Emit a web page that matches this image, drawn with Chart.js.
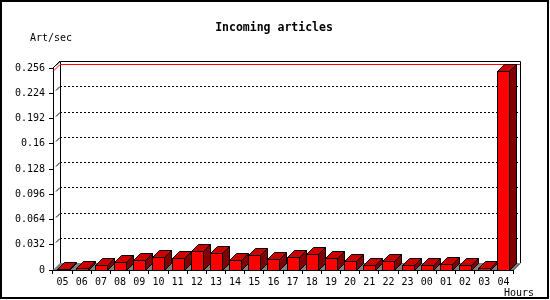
<!DOCTYPE html>
<html>
<head>
<meta charset="utf-8">
<script src="https://cdn.jsdelivr.net/npm/chart.js@4/dist/chart.umd.min.js"></script>
<style>
  body { margin: 0; background: #fff; }
  canvas { display: block; }
</style>
</head>
<body>
<canvas id="myChart" width="550" height="300"></canvas>
<script>
// hourly data
const hours = ['05', '06', '07', '08', '09', '10', '11', '12', '13', '14', '15', '16',
               '17', '18', '19', '20', '21', '22', '23', '00', '01', '02', '03', '04'];
const artPerSec = [0.001, 0.002, 0.006, 0.010, 0.0125, 0.0165, 0.015, 0.024, 0.0215, 0.0125, 0.0185, 0.0145,
                   0.0165, 0.020, 0.015, 0.0115, 0.006, 0.0115, 0.006, 0.006, 0.0075, 0.006, 0.0025, 0.252];
const yTicks = [0, 0.032, 0.064, 0.096, 0.128, 0.16, 0.192, 0.224, 0.256];

const D = 7; // 3d depth in px
const mono = '"DejaVu Sans Mono", monospace';

const fake3d = {
    id: 'fake3d',
    beforeDatasetsDraw(chart) {
        const c = chart.ctx, a = chart.chartArea, y = chart.scales.y;
        c.save();
        // floor
        c.fillStyle = '#808080';
        c.beginPath();
        c.moveTo(a.left, a.bottom);
        c.lineTo(a.right, a.bottom);
        c.lineTo(a.right + D, a.bottom - D);
        c.lineTo(a.left + D, a.bottom - D);
        c.closePath();
        c.fill();
        c.strokeStyle = '#000';
        c.lineWidth = 1;
        c.beginPath();
        c.moveTo(a.right, a.bottom + 0.5);
        c.lineTo(a.right + D, a.bottom - D + 0.5);
        c.stroke();

        // back wall grid
        c.setLineDash([2, 2]);
        yTicks.forEach(v => {
            if (v === 0 || v === yTicks[yTicks.length - 1]) return;
            const py = Math.round(y.getPixelForValue(v)) - D + 0.5;
            c.beginPath();
            c.moveTo(a.left + D, py);
            c.lineTo(a.right + D, py);
            c.stroke();
        });
        c.setLineDash([]);
        // little stubs on side wall
        yTicks.forEach(v => {
            if (v === 0) return;
            const py = Math.round(y.getPixelForValue(v)) + 0.5;
            c.beginPath();
            c.moveTo(a.left + 3, py - 3);
            c.lineTo(a.left + D, py - D);
            c.stroke();
        });

        // back wall frame
        const top = Math.round(a.top) - D + 0.5;
        c.beginPath();
        c.moveTo(a.left + D + 0.5, a.bottom - D);
        c.lineTo(a.left + D + 0.5, top);
        c.lineTo(a.right + D + 0.5, top);
        c.lineTo(a.right + D + 0.5, a.bottom - D);
        c.stroke();
        c.beginPath();
        c.moveTo(a.left, a.top);
        c.lineTo(a.left + D, a.top - D);
        c.stroke();

        // max line
        const mx = Math.max(...artPerSec);
        const my = Math.round(y.getPixelForValue(mx)) + 0.5;
        c.strokeStyle = '#ff0000';
        c.beginPath();
        c.moveTo(a.left, my);
        c.lineTo(a.left + D, my - D);
        c.lineTo(a.right + D, my - D);
        c.stroke();
        c.restore();
    },
    afterDatasetsDraw(chart) {
        const c = chart.ctx;
        c.save();
        c.strokeStyle = '#000';
        c.lineWidth = 1;
        chart.getDatasetMeta(0).data.forEach(bar => {
            const x0 = Math.round(bar.x - bar.width / 2) + 0.5;
            const x1 = Math.round(bar.x + bar.width / 2) + 0.5;
            const yt = Math.round(bar.y) + 0.5;
            const yb = Math.round(bar.base) + 0.5;
            // top
            c.fillStyle = '#cc0000';
            c.beginPath();
            c.moveTo(x0, yt);
            c.lineTo(x1, yt);
            c.lineTo(x1 + D, yt - D);
            c.lineTo(x0 + D, yt - D);
            c.closePath();
            c.fill();
            c.stroke();
            // side
            c.fillStyle = '#800000';
            c.beginPath();
            c.moveTo(x1, yt);
            c.lineTo(x1 + D, yt - D);
            c.lineTo(x1 + D, yb - D);
            c.lineTo(x1, yb);
            c.closePath();
            c.fill();
            c.stroke();
            // front
            c.fillStyle = '#ff0000';
            c.fillRect(x0, yt, x1 - x0, yb - yt);
            c.strokeRect(x0, yt, x1 - x0, yb - yt);
        });
        c.restore();
    },
    afterDraw(chart) {
        const c = chart.ctx;
        c.save();
        c.fillStyle = '#000';
        c.textBaseline = 'alphabetic';
        c.font = 'bold 11.5px ' + mono;
        c.textAlign = 'center';
        c.fillText('Incoming articles', 274, 31);
        c.font = '10px ' + mono;
        c.textAlign = 'left';
        c.fillText('Art/sec', 30, 41);
        c.fillText('Hours', 504, 296);
        c.strokeStyle = '#000';
        c.lineWidth = 2;
        c.strokeRect(1, 1, 547, 297);
        c.restore();
    }
};

const ctx = document.getElementById('myChart').getContext('2d');
const myChart = new Chart(ctx, {
    type: 'bar',
    data: {
        labels: hours,
        datasets: [{
            data: artPerSec,
            backgroundColor: 'rgba(0,0,0,0)',
            borderWidth: 0,
            categoryPercentage: 1,
            barPercentage: 0.63
        }]
    },
    options: {
        responsive: false,
        animation: false,
        layout: { padding: { top: 68, right: 37, bottom: 0, left: 0 } },
        plugins: { legend: { display: false }, tooltip: { enabled: false } },
        scales: {
            x: {
                afterFit: s => { s.height = 30; },
                grid: { drawOnChartArea: false, tickLength: 4, color: '#000', offset: true },
                border: { color: '#000' },
                ticks: { color: '#000', padding: 2, maxRotation: 0, autoSkip: false, font: { family: mono, size: 10 } }
            },
            y: {
                min: 0,
                max: 0.256,
                afterFit: s => { s.width = 53; },
                afterBuildTicks: s => { s.ticks = yTicks.map(v => ({ value: v })); },
                grid: { drawOnChartArea: false, tickLength: 4, color: '#000' },
                border: { color: '#000' },
                ticks: {
                    color: '#000', padding: 4,
                    font: { family: mono, size: 10 },
                    callback: v => String(+v.toFixed(3))
                }
            }
        }
    },
    plugins: [fake3d]
});
</script>
</body>
</html>
